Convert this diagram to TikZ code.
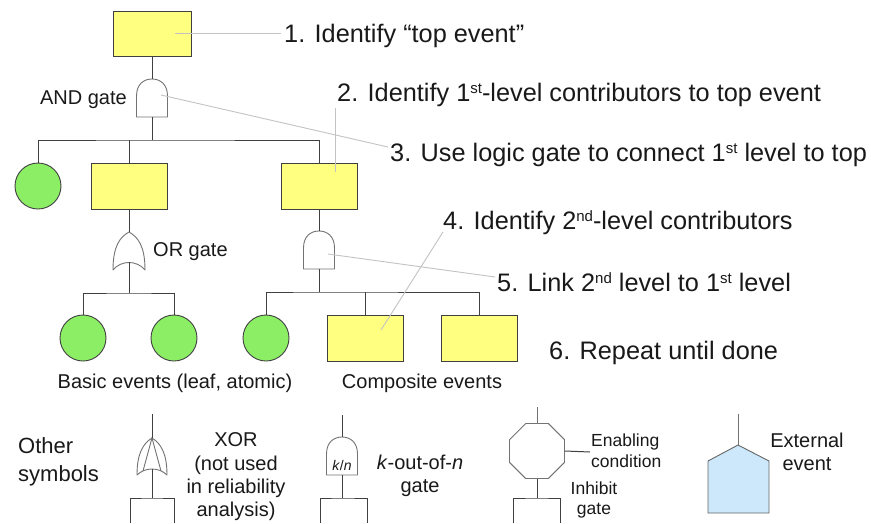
\documentclass[tikz,border=0pt]{standalone}
\usepackage{fontspec}
\setmainfont{Liberation Sans}
\usetikzlibrary{shapes.geometric}
\definecolor{evyellow}{RGB}{255,255,128}
\definecolor{evgreen}{RGB}{140,238,100}
\definecolor{extblue}{RGB}{204,232,250}
\definecolor{leadgray}{RGB}{195,195,195}
\newcommand{\stepsup}[1]{\raisebox{7.5pt}{\fontsize{15}{15}\selectfont #1}}
\begin{document}
\begin{tikzpicture}[x=1pt,y=-1pt,
  evbox/.style={draw=black!75, fill=evyellow, minimum width=76pt, minimum height=46pt, inner sep=0pt, line width=0.9pt},
  basic/.style={circle, draw=black!75, fill=evgreen, minimum size=46pt, inner sep=0pt, line width=0.9pt},
  wire/.style={draw=black!75, line width=1pt},
  gateline/.style={draw=black!55, fill=white, line width=0.9pt, line join=round},
  leader/.style={draw=leadgray, line width=0.9pt},
  steptext/.style={anchor=base west, inner sep=0pt, font=\fontsize{25.3}{30}\selectfont, text=black!90},
  lbl/.style={inner sep=0pt, font=\fontsize{20}{23.3}\selectfont, text=black!90},
  andg/.pic={\path[gateline] (-15.5,38) -- (-15.5,17) .. controls (-15.5,5) and (-8,0) .. (0,0) .. controls (8,0) and (15.5,5) .. (15.5,17) -- (15.5,38) -- cycle;},
  org/.pic={\path[gateline] (0,0) .. controls (9,5) and (16,14) .. (16,38) .. controls (8,28) and (-8,28) .. (-16,38) .. controls (-16,14) and (-9,5) .. (0,0) -- cycle;},
  xorg/.pic={\path[gateline] (0,0) .. controls (8,5) and (15,14) .. (15,37) .. controls (7,29) and (-7,29) .. (-15,37) .. controls (-15,14) and (-8,5) .. (0,0) -- cycle;
             \draw[black!55, line width=0.9pt] (-9,33) -- (0,0) -- (9,33);},
]
\fill[white] (0,0) rectangle (871,523);
\useasboundingbox (0,0) rectangle (871,523);

% ---------- main tree ----------
\node[evbox, minimum width=78pt, minimum height=45pt] (top) at (152,33.5) {};
\pic at (152,79) {andg};
\coordinate (g1t) at (152,79);
\coordinate (g1b) at (152,117);
\coordinate (bus1) at (152,140);
\draw[wire] (top.south) -- (g1t);
\draw[wire] (g1b) -- (bus1);

\node[basic] (c1) at (38,186) {};
\node[evbox] (b2) at (129,186) {};
\node[evbox] (b3) at (319,186) {};
\draw[wire] (c1.north) |- (bus1) -| (b3.north);
\draw[wire] (b2.north) -- (b2.north |- bus1);

% OR branch
\pic at (129,232) {org};
\coordinate (ogt) at (129,232);
\coordinate (ogb) at (129,262);
\coordinate (bus2) at (129,293);
\draw[wire] (b2.south) -- (ogt);
\draw[wire] (ogb) -- (bus2);
\node[basic] (c2) at (83,338) {};
\node[basic] (c3) at (174,338) {};
\draw[wire] (c2.north) |- (bus2) -| (c3.north);

% AND branch
\pic at (319,231) {andg};
\coordinate (g2t) at (319,231);
\coordinate (g2b) at (319,269);
\coordinate (bus3) at (319,292);
\draw[wire] (b3.south) -- (g2t);
\draw[wire] (g2b) -- (bus3);
\node[basic] (c4) at (266,338) {};
\node[evbox] (b4) at (365,338) {};
\node[evbox] (b5) at (479,338) {};
\draw[wire] (c4.north) |- (bus3) -| (b5.north);
\draw[wire] (b4.north) -- (b4.north |- bus3);

% labels
\node[lbl, anchor=base east] (andlbl) at (127,104) {AND gate};
\node[lbl, anchor=base west] (orlbl) at (153,256) {OR gate};
\node[lbl, anchor=base] (basiclbl) at (175,388) {Basic events (leaf, atomic)};
\node[lbl, anchor=base] (complbl) at (422,388) {Composite events};

% ---------- steps ----------
\node[steptext] (s1) at (284,42) {1. Identify “top event”};
\node[steptext] (s2) at (337,101) {2. Identify 1\stepsup{st}-level contributors to top event};
\node[steptext] (s3) at (390,161) {3. Use logic gate to connect 1\stepsup{st} level to top};
\node[steptext] (s4) at (443,229) {4. Identify 2\stepsup{nd}-level contributors};
\node[steptext] (s5) at (497,291) {5. Link 2\stepsup{nd} level to 1\stepsup{st} level};
\node[steptext] (s6) at (549,359) {6. Repeat until done};

\coordinate (l1a) at (175,33);  \coordinate (l1b) at (281,33);
\coordinate (l2a) at (335,172); \coordinate (l2b) at (335,108);
\coordinate (l3a) at (161,95);  \coordinate (l3b) at (388,147);
\coordinate (l4a) at (381,330); \coordinate (l4b) at (443,232);
\coordinate (l5a) at (328,254); \coordinate (l5b) at (495,277);
\draw[leader] (l1a) -- (l1b);
\draw[leader] (l2a) -- (l2b);
\draw[leader] (l3a) -- (l3b);
\draw[leader] (l4a) -- (l4b);
\draw[leader] (l5a) -- (l5b);

% ---------- other symbols ----------
\node[lbl, font=\fontsize{22}{28}\selectfont, anchor=west, align=left] (other) at (18,462) {Other\\symbols};

% XOR
\pic at (152,438) {xorg};
\coordinate (xt) at (152,414);
\coordinate (xa) at (152,438);
\coordinate (xc) at (152,469);
\coordinate (xb) at (152,498);
\coordinate (xl) at (130,523);
\coordinate (xr) at (174,523);
\draw[wire] (xt) -- (xa);
\draw[wire] (xc) -- (xb);
\draw[wire] (xl) |- (xb) -| (xr);
\node[lbl, align=center] (xorlbl) at (236,477) {XOR\\(not used\\in reliability\\analysis)};

% k/n
\pic at (342,437) {andg};
\coordinate (kt) at (342,415);
\coordinate (ka) at (342,437);
\coordinate (kc) at (342,475);
\coordinate (kb) at (342,498);
\coordinate (kl) at (320,523);
\coordinate (kr) at (367,523);
\draw[wire] (kt) -- (ka);
\draw[wire] (kc) -- (kb);
\draw[wire] (kl) |- (kb) -| (kr);
\node[inner sep=0pt, font=\fontsize{14}{16}\selectfont, text=black!90] (kn) at (342,465) {\textit{k}/\textit{n}};
\node[lbl, align=center] (knlbl) at (420,476) {\textit{k}-out-of-\textit{n}\\gate};

% inhibit
\node[regular polygon, regular polygon sides=8, minimum size=59.5pt, inner sep=0pt, draw=black!55, line width=0.9pt] (inh) at (537,451) {};
\coordinate (it) at (537,407);
\coordinate (ie) at (590,452);
\coordinate (ib) at (537,498);
\coordinate (il) at (513,523);
\coordinate (ir) at (560,523);
\draw[black!55, line width=0.9pt] (it) -- (inh.north);
\draw[wire] (inh.east) -- (ie);
\draw[wire] (inh.south) -- (ib);
\draw[wire] (il) |- (ib) -| (ir);
\node[lbl, font=\fontsize{17.5}{21}\selectfont, anchor=west, align=left] (enab) at (591,451) {Enabling\\condition};
\node[lbl, font=\fontsize{17.5}{20}\selectfont, align=center] (inhlbl) at (594,500) {Inhibit\\gate};

% external event
\draw[draw=black!60, fill=extblue, line width=0.9pt] (708,513) -- (708,461) -- (738,445) -- (769,461) -- (769,513) -- cycle;
\coordinate (ext) at (738,445);
\coordinate (extt) at (738,414);
\draw[black!55, line width=0.9pt] (extt) -- (ext);
\node[lbl, align=center] (extlbl) at (807,452) {External\\event};
\end{tikzpicture}
\end{document}
